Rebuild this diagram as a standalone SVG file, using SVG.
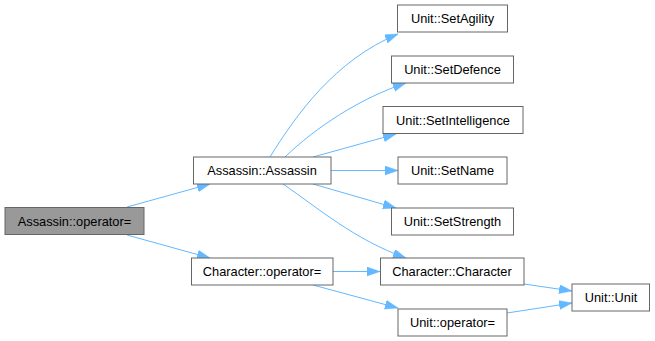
<svg xmlns="http://www.w3.org/2000/svg" width="655" height="341" viewBox="0 0 655 341">
  <defs>
    <marker id="arrow" markerUnits="userSpaceOnUse" markerWidth="14" markerHeight="10" refX="13" refY="4.5" orient="auto">
      <path d="M0,0 L13,4.5 L0,9 z" fill="#63b8ff" stroke="#63b8ff" stroke-width="0.5"/>
    </marker>
  </defs>
  <style>
    .node rect { fill: #ffffff; stroke: #666666; stroke-width: 1; }
    .node.current rect { fill: #999999; }
    .node text { font-family: "Liberation Sans", Arial, sans-serif; font-size: 12.8px; fill: #000000; text-anchor: middle; }
    .edges path { fill: none; stroke: #63b8ff; stroke-width: 1; marker-end: url(#arrow); }
  </style>
  <rect width="655" height="341" fill="#ffffff"/>

  <g id="connectors" class="edges">
    <path d="M127,207 L210,184"/>
    <path d="M127,235 L210,258"/>
    <path d="M270,157 C296,115 335,60 398,34"/>
    <path d="M285,157 C315,128 360,98 406,83"/>
    <path d="M313,157 L396,134"/>
    <path d="M331,170.5 L398,170.5"/>
    <path d="M313,184 L396,208"/>
    <path d="M283,184 C318,208 355,240 406,258"/>
    <path d="M333,271.5 L380,271.5"/>
    <path d="M313,285 L398,308"/>
    <path d="M524,284 L572,291"/>
    <path d="M507,313 L572,303"/>
  </g>

  <g id="assassin-operator-assign" class="node current">
    <rect x="5" y="207.5" width="139" height="27"/>
    <text x="74.5" y="225.5">Assassin::operator=</text>
  </g>
  <g id="assassin-ctor" class="node">
    <rect x="193.5" y="157" width="137.5" height="27"/>
    <text x="262" y="175">Assassin::Assassin</text>
  </g>
  <g id="character-operator-assign" class="node">
    <rect x="191.5" y="258" width="141.5" height="27"/>
    <text x="262" y="276">Character::operator=</text>
  </g>
  <g id="unit-setagility" class="node">
    <rect x="397.5" y="5" width="110" height="27"/>
    <text x="452.5" y="23">Unit::SetAgility</text>
  </g>
  <g id="unit-setdefence" class="node">
    <rect x="391.5" y="56" width="122" height="27"/>
    <text x="452.5" y="74">Unit::SetDefence</text>
  </g>
  <g id="unit-setintelligence" class="node">
    <rect x="383" y="106.5" width="140" height="27"/>
    <text x="453" y="124.5">Unit::SetIntelligence</text>
  </g>
  <g id="unit-setname" class="node">
    <rect x="398" y="157" width="109" height="27"/>
    <text x="452.5" y="175">Unit::SetName</text>
  </g>
  <g id="unit-setstrength" class="node">
    <rect x="391.5" y="208" width="122" height="27"/>
    <text x="452.5" y="226">Unit::SetStrength</text>
  </g>
  <g id="character-ctor" class="node">
    <rect x="380.5" y="258" width="143.5" height="27"/>
    <text x="452" y="276">Character::Character</text>
  </g>
  <g id="unit-operator-assign" class="node">
    <rect x="398" y="309" width="109" height="27"/>
    <text x="452.5" y="327">Unit::operator=</text>
  </g>
  <g id="unit-ctor" class="node">
    <rect x="572" y="284" width="77.5" height="27"/>
    <text x="611" y="302">Unit::Unit</text>
  </g>
</svg>
